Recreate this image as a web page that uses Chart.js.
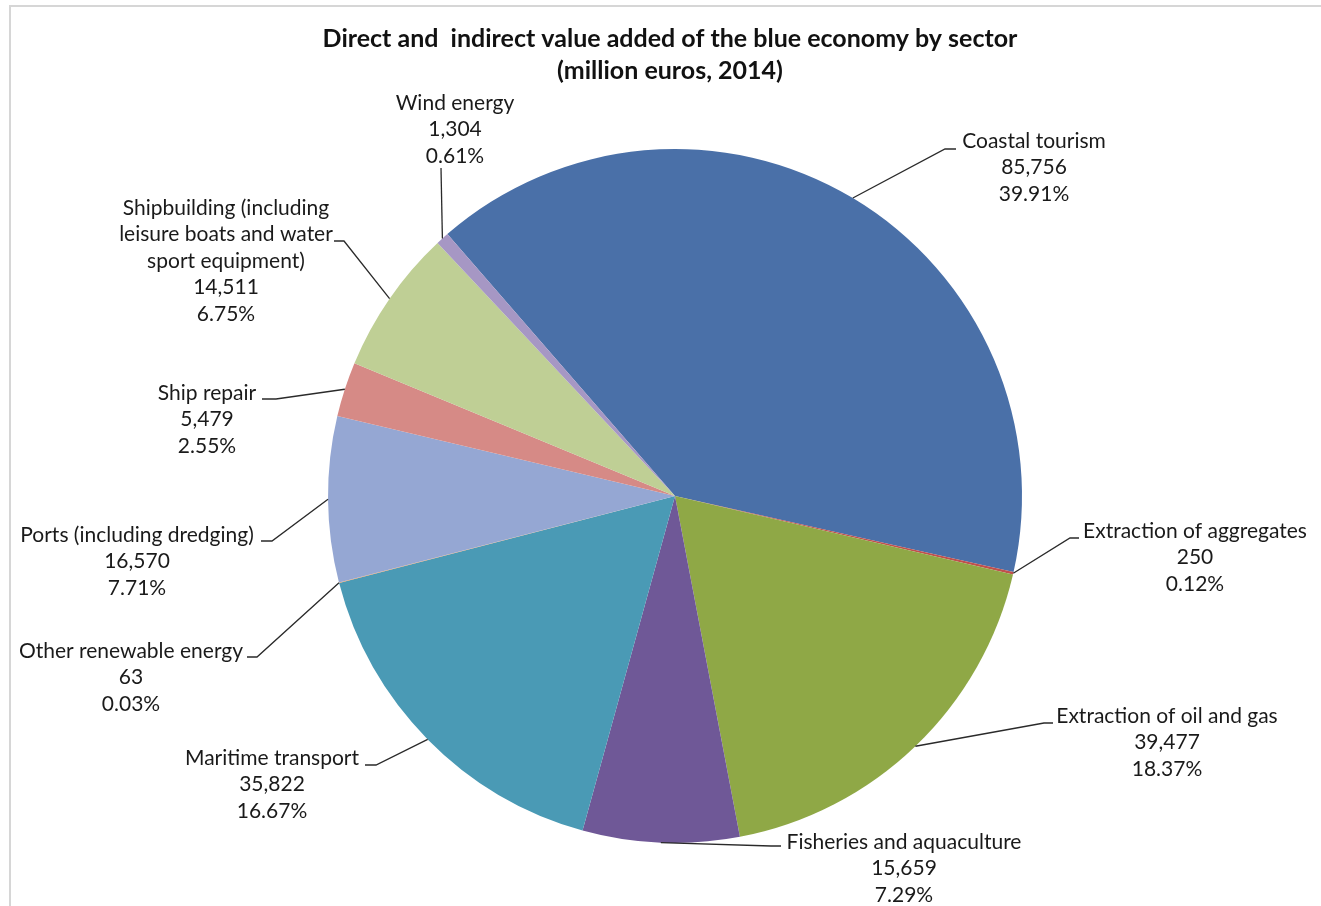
<!DOCTYPE html>
<html>
<head>
<meta charset="utf-8">
<title>Blue economy value added by sector</title>
<script src="https://cdn.jsdelivr.net/npm/chart.js@4.4.1/dist/chart.umd.min.js"></script>
<style>
  html, body { margin: 0; padding: 0; background: #fff; }
  canvas { display: block; }
</style>
</head>
<body>
<canvas id="pie" width="1321" height="906"></canvas>
<script>
const sectors = [
  "Coastal tourism",
  "Extraction of aggregates",
  "Extraction of oil and gas",
  "Fisheries and aquaculture",
  "Maritime transport",
  "Other renewable energy",
  "Ports (including dredging)",
  "Ship repair",
  "Shipbuilding (including leisure boats and water sport equipment)",
  "Wind energy"
];
const valueAdded = [85756, 250, 39477, 15659, 35822, 63, 16570, 5479, 14511, 1304];

// how each sector name is broken over lines in its label
const nameLines = [
  ["Coastal tourism"],
  ["Extraction of aggregates"],
  ["Extraction of oil and gas"],
  ["Fisheries and aquaculture"],
  ["Maritime transport"],
  ["Other renewable energy"],
  ["Ports (including dredging)"],
  ["Ship repair"],
  ["Shipbuilding (including", "leisure boats and water", "sport equipment)"],
  ["Wind energy"]
];

const sliceColors = [
  "#4a70a8", "#c0504d", "#8fa846", "#6f5897", "#4a9ab5",
  "#f79646", "#95a7d3", "#d68a86", "#bfcf95", "#a697c4"
];

// label placement: x/y = centre of first text line, p0 -> p1 = short tick next to the text
const labelLayout = [
  { x: 1034, y: 141, p0: [956, 149], p1: [945, 149] },
  { x: 1195, y: 531, p0: [1079, 538], p1: [1070, 538] },
  { x: 1167, y: 716, p0: [1053, 723], p1: [1044, 723] },
  { x: 904,  y: 842, p0: [781, 846],  p1: [771, 846] },
  { x: 272,  y: 758, p0: [365, 765],  p1: [376, 765] },
  { x: 131,  y: 651, p0: [247, 657],  p1: [257, 657] },
  { x: 137,  y: 535, p0: [261, 541],  p1: [272, 541] },
  { x: 207,  y: 393, p0: [262, 399],  p1: [276, 399] },
  { x: 226,  y: 208, p0: [334, 241],  p1: [344, 241] },
  { x: 455,  y: 103, p0: [441, 168],  p1: [441, 168] }
];

const FONT = "Lato, 'Open Sans', sans-serif";
const total = valueAdded.reduce((a, b) => a + b, 0);
const fmt = new Intl.NumberFormat("en-US");

const frameAndLabels = {
  id: "frameAndLabels",
  beforeDraw(chart) {
    const ctx = chart.ctx;
    ctx.save();
    ctx.fillStyle = "#fff";
    ctx.fillRect(0, 0, chart.width, chart.height);
    ctx.strokeStyle = "#d6d6d6";
    ctx.lineWidth = 2;
    ctx.beginPath();
    ctx.moveTo(10, chart.height);
    ctx.lineTo(10, 6);
    ctx.lineTo(chart.width, 6);
    ctx.stroke();
    ctx.restore();
  },
  afterDatasetsDraw(chart) {
    const ctx = chart.ctx;
    const arcs = chart.getDatasetMeta(0).data;
    ctx.save();

    // title
    ctx.fillStyle = "#111";
    ctx.textAlign = "center";
    ctx.textBaseline = "middle";
    ctx.font = "bold 25px " + FONT;
    ctx.fillText("Direct and  indirect value added of the blue economy by sector", 670, 39);
    ctx.fillText("(million euros, 2014)", 670, 71);

    arcs.forEach((arc, i) => {
      const { x, y, startAngle, endAngle, outerRadius } = arc.getProps(
        ["x", "y", "startAngle", "endAngle", "outerRadius"], true);
      const mid = (startAngle + endAngle) / 2;
      const ex = x + Math.cos(mid) * outerRadius;
      const ey = y + Math.sin(mid) * outerRadius;
      const L = labelLayout[i];

      ctx.strokeStyle = "#2a2a2a";
      ctx.lineWidth = 1.3;
      ctx.beginPath();
      ctx.moveTo(L.p0[0], L.p0[1]);
      ctx.lineTo(L.p1[0], L.p1[1]);
      ctx.lineTo(ex, ey);
      ctx.stroke();

      const lines = nameLines[i].concat([
        fmt.format(valueAdded[i]),
        (valueAdded[i] / total * 100).toFixed(2) + "%"
      ]);
      ctx.fillStyle = "#1a1a1a";
      ctx.font = "21px " + FONT;
      lines.forEach((t, k) => ctx.fillText(t, L.x, L.y + k * 26.5));
    });
    ctx.restore();
  }
};

new Chart(document.getElementById("pie"), {
  type: "pie",
  data: {
    labels: sectors,
    datasets: [{
      data: valueAdded,
      backgroundColor: sliceColors,
      borderWidth: 0
    }]
  },
  options: {
    responsive: false,
    animation: false,
    devicePixelRatio: 1,
    rotation: -41,
    radius: 347,
    layout: { padding: { left: 328, right: 299, top: 149, bottom: 63 } },
    plugins: {
      legend: { display: false },
      tooltip: { enabled: false },
      title: { display: false }
    }
  },
  plugins: [frameAndLabels]
});
</script>
</body>
</html>
